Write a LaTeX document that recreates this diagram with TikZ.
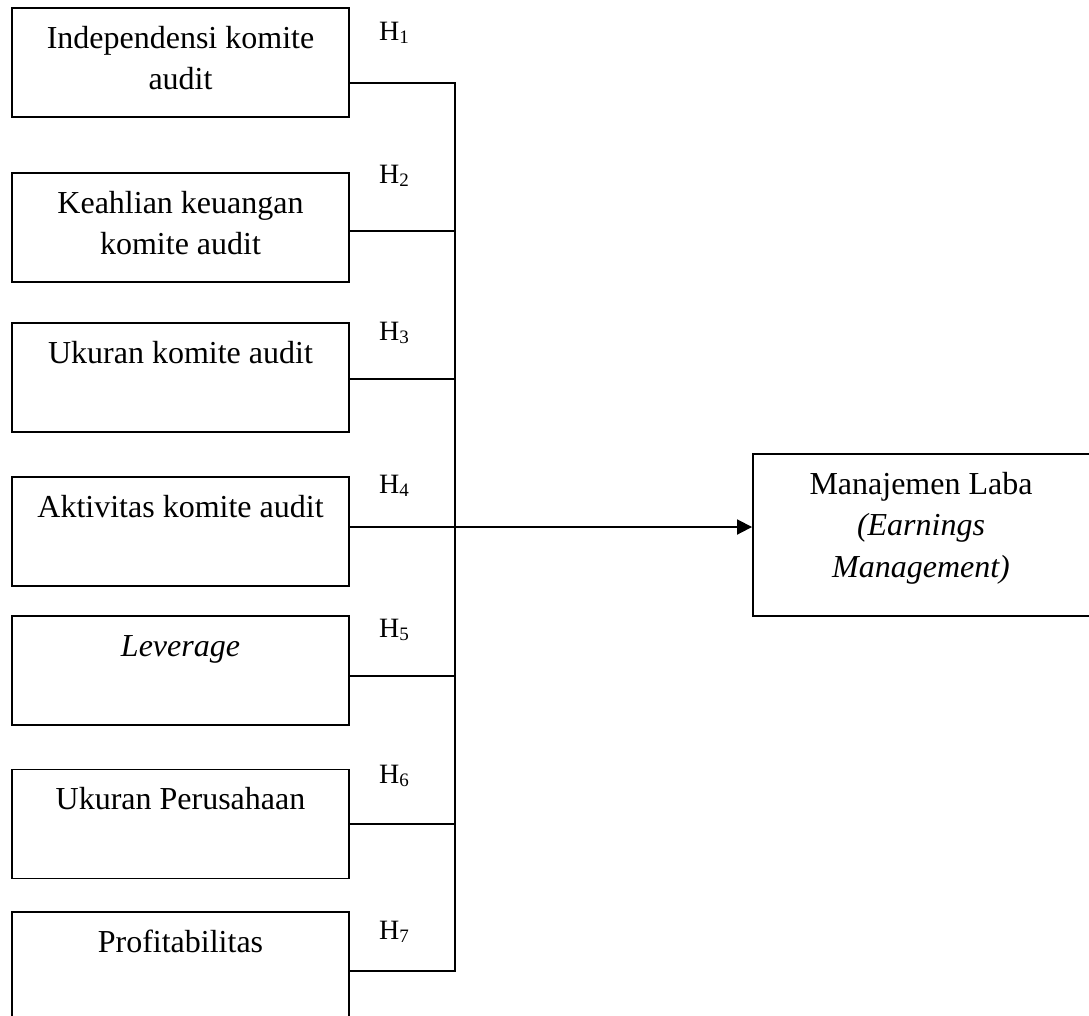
\documentclass[tikz,border=0pt]{standalone}
\usepackage{fontspec}
\setmainfont{Liberation Serif}
\usetikzlibrary{arrows.meta,calc}
\begin{document}
\begin{tikzpicture}[x=1pt,y=-1pt,
  box/.style={draw, line width=1.9pt, minimum width=337pt, minimum height=109pt, inner sep=0pt},
  boxtext/.style={anchor=north, inner sep=0pt, align=center, font=\fontsize{32}{41.5}\selectfont},
  hlab/.style={anchor=base west, inner sep=0pt, font=\fontsize{28}{30}\selectfont},
  conn/.style={line width=1.9pt},
  arrow/.style={line width=1.9pt, -{Triangle[length=15pt,width=15pt]}}]
\useasboundingbox (0,0) rectangle (1089,1015);
\newcommand{\hsub}[1]{H\raisebox{-3pt}{\fontsize{19}{20}\selectfont #1}}
% left boxes
\node[box] (b1) at (180.5,62.5) {};
\node[box] (b2) at (180.5,227.5) {};
\node[box] (b3) at (180.5,377.5) {};
\node[box] (b4) at (180.5,531.5) {};
\node[box] (b5) at (180.5,670.5) {};
\node[box] (b6) at (180.5,824) {};
\node[box] (b7) at (180.5,966.5) {};
% texts
\node[boxtext] (t1) at ($(b1.north)+(0,12)$) {\strut Independensi komite\\audit};
\node[boxtext] (t2) at ($(b2.north)+(0,12)$) {\strut Keahlian keuangan\\komite audit};
\node[boxtext] (t3) at ($(b3.north)+(0,12)$) {\strut Ukuran komite audit};
\node[boxtext] (t4) at ($(b4.north)+(0,12)$) {\strut Aktivitas komite audit};
\node[boxtext] (t5) at ($(b5.north)+(0,12)$) {\strut \textit{Leverage}};
\node[boxtext] (t6) at ($(b6.north)+(0,12)$) {\strut Ukuran Perusahaan};
\node[boxtext] (t7) at ($(b7.north)+(0,12)$) {\strut Profitabilitas};
% right box
\node[draw, line width=1.9pt, minimum width=342pt, minimum height=162pt, inner sep=0pt] (m) at (924,535) {};
\node[boxtext] (mt) at (921,464.95) {\strut Manajemen Laba\\\textit{(Earnings}\\\textit{Management)}};
% hypothesis labels
\node[hlab] (h1) at (379,40) {\hsub{1}};
\node[hlab] (h2) at (379,183) {\hsub{2}};
\node[hlab] (h3) at (379,340) {\hsub{3}};
\node[hlab] (h4) at (379,493) {\hsub{4}};
\node[hlab] (h5) at (379,637) {\hsub{5}};
\node[hlab] (h6) at (379,783) {\hsub{6}};
\node[hlab] (h7) at (379,939) {\hsub{7}};
% bus coordinates
\coordinate (k1) at (455,83);
\coordinate (k2) at (455,231);
\coordinate (k3) at (455,379);
\coordinate (k4) at (455,527);
\coordinate (k5) at (455,676);
\coordinate (k6) at (455,824);
\coordinate (k7) at (455,971);
\foreach \i in {1,...,7} {\draw[conn] (b\i.east |- k\i) -- (k\i);}
\draw[conn, line cap=rect] (k1) -- (k7);
\draw[arrow] (k4) -- (k4 -| m.west);
\end{tikzpicture}
\end{document}
